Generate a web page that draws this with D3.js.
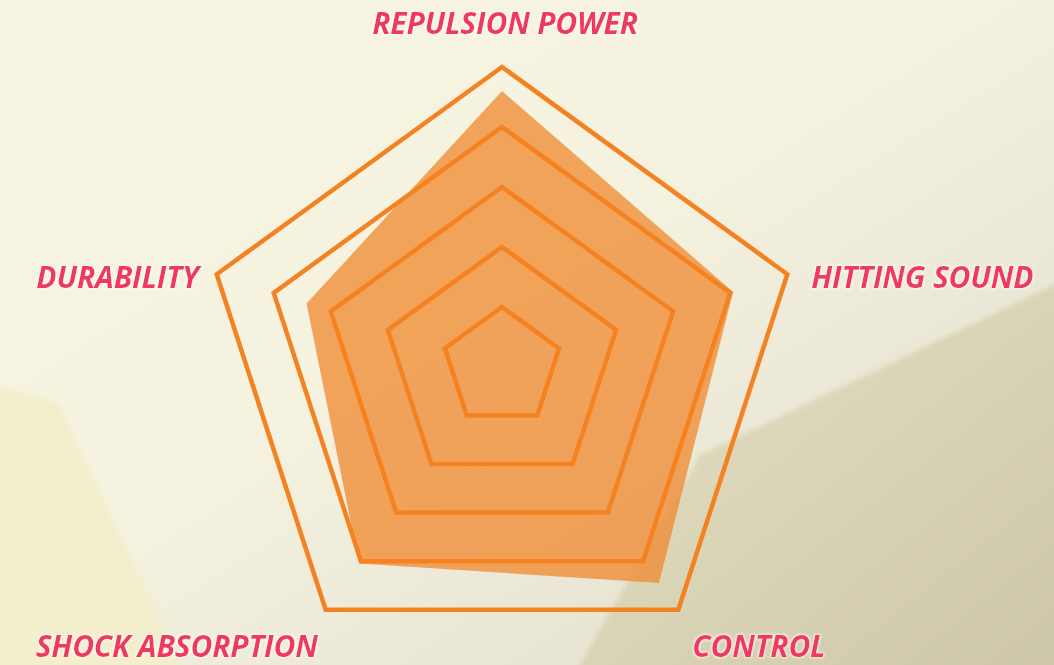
<!DOCTYPE html>
<html>
<head>
<meta charset="utf-8">
<script src="https://cdn.jsdelivr.net/npm/d3@7"></script>
<style>
  html, body { margin: 0; padding: 0; overflow: hidden; }
  body { width: 1054px; height: 665px; }
</style>
</head>
<body>
<div id="plot"></div>
<script>

// data
var axes = ["REPULSION POWER", "HITTING SOUND", "CONTROL", "SHOCK ABSORPTION", "DURABILITY"];
var values = [9.2, 8.1, 8.9, 8.1, 6.85];
var levels = [2, 4, 6, 8, 10];

window.onload = function(){
    buildChart();
};

function buildChart(){

    var width = 1054;
    var height = 665;
    var cx = 502;
    var cy = 367;
    var R = 300;

    var rScale = d3.scaleLinear()
        .domain([0, 10])
        .range([0, R]);

    var angle = d3.scaleLinear()
        .domain([0, axes.length])
        .range([-Math.PI / 2, Math.PI * 1.5]);

    var svg = d3.select("#plot")
        .append("svg")
        .attr("width", width)
        .attr("height", height);

    var defs = svg.append("defs");

    var bg = defs.append("linearGradient")
        .attr("id", "bg")
        .attr("x1", "0").attr("y1", "0")
        .attr("x2", "1").attr("y2", "1");
    bg.append("stop").attr("offset", "0").attr("stop-color", "#f7f4e2");
    bg.append("stop").attr("offset", "0.45").attr("stop-color", "#f5f2e0");
    bg.append("stop").attr("offset", "1").attr("stop-color", "#dedbcb");

    var tan = defs.append("linearGradient")
        .attr("id", "tan")
        .attr("x1", "0").attr("y1", "0")
        .attr("x2", "1").attr("y2", "1");
    tan.append("stop").attr("offset", "0").attr("stop-color", "#e6e2c4");
    tan.append("stop").attr("offset", "1").attr("stop-color", "#cdc6a9");

    defs.append("filter")
        .attr("id", "soft")
        .append("feGaussianBlur")
        .attr("stdDeviation", 2.5);

    var glow = defs.append("filter")
        .attr("id", "glow")
        .attr("x", "-10%").attr("y", "-30%")
        .attr("width", "120%").attr("height", "160%");
    glow.append("feMorphology")
        .attr("in", "SourceAlpha")
        .attr("operator", "dilate")
        .attr("radius", 1.2)
        .attr("result", "d");
    glow.append("feGaussianBlur")
        .attr("in", "d")
        .attr("stdDeviation", 1.2)
        .attr("result", "b");
    glow.append("feFlood").attr("flood-color", "#ffffff").attr("flood-opacity", 0.7);
    glow.append("feComposite").attr("in2", "b").attr("operator", "in").attr("result", "w");
    var merge = glow.append("feMerge");
    merge.append("feMergeNode").attr("in", "w");
    merge.append("feMergeNode").attr("in", "SourceGraphic");

    // background
    svg.append("rect")
        .attr("width", width)
        .attr("height", height)
        .attr("fill", "url(#bg)");

    svg.append("path")
        .attr("d", "M-10,384 L58,403 L186,675 L-10,675 Z")
        .attr("fill", "#f3eecb")
        .attr("filter", "url(#soft)");

    svg.append("path")
        .attr("d", "M1064,280 L700,455 L574,675 L1064,675 Z")
        .attr("fill", "url(#tan)")
        .attr("filter", "url(#soft)");

    var point = (v, i) => {
        var a = angle(i);
        return [cx + rScale(v) * Math.cos(a), cy + rScale(v) * Math.sin(a)];
    };

    // data shape
    svg.append("path")
        .attr("d", d3.line()(values.map((v, i) => point(v, i))) + "Z")
        .attr("fill", "rgba(240,136,46,0.75)");

    // rings
    svg.append("g")
        .selectAll("path")
        .data(levels)
        .enter()
        .append("path")
        .attr("d", l => d3.line()(axes.map((a, i) => point(l, i))) + "Z")
        .attr("fill", "none")
        .attr("stroke", "#f58220")
        .attr("stroke-width", 4.5)
        .attr("stroke-linejoin", "miter");

    // labels
    svg.append("g")
        .selectAll("text")
        .data(axes)
        .enter()
        .append("text")
        .attr("x", (d, i) => {
            var p = point(10, i);
            var c = Math.cos(angle(i));
            if(Math.abs(c) < 0.1) return p[0] + 3;
            if(Math.abs(c) > 0.8) return p[0] + (c > 0 ? 24 : -18);
            return p[0] + (c > 0 ? 14 : -8);
        })
        .attr("y", (d, i) => {
            var p = point(10, i);
            var s = Math.sin(angle(i));
            if(s < -0.9) return p[1] - 45;
            if(s > 0.5) return p[1] + 36;
            return p[1] + 2;
        })
        .attr("text-anchor", (d, i) => {
            var c = Math.cos(angle(i));
            if(Math.abs(c) < 0.1) return "middle";
            return c > 0 ? "start" : "end";
        })
        .attr("dominant-baseline", "central")
        .attr("font-family", "'Open Sans', sans-serif")
        .attr("font-weight", 700)
        .attr("font-style", "italic")
        .attr("font-size", 30)
        .attr("letter-spacing", -0.2)
        .attr("fill", "#ef3862")
        .attr("filter", "url(#glow)")
        .text(d => d);

}

</script>
</body>
</html>
